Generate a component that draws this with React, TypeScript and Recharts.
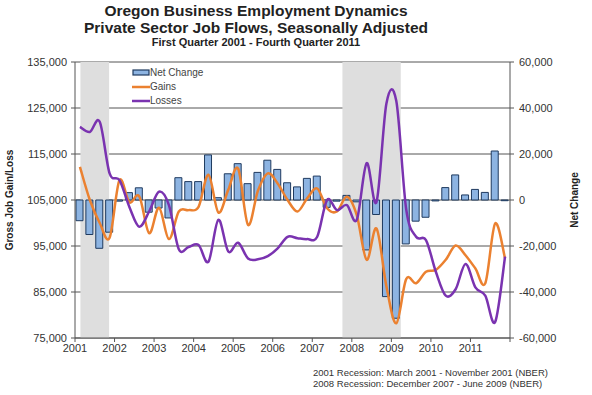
import { ComposedChart, Bar, Line, XAxis, YAxis, CartesianGrid, ReferenceArea, Legend } from 'recharts';

// quarterly values, Q1 2001 .. Q4 2011
const netChange = [
  -9000, -15000, -21000, -14000,
  -500, 3200, 5300, -5300,
  -3500, -7800, 9700, 8000,
  8000, 19600, 1000, 11400,
  15800, 7100, 12000, 17300,
  13300, 7500, 5700, 9400,
  10400, -3200, -500, 2000,
  -800, -21700, -6300, -42000,
  -51400, -19100, -9200, -7500,
  -400, 5400, 10900, 2200,
  4600, 3300, 21300, -300,
];

const gains = [
  112200, 105000, 100000, 96800,
  109300, 104500, 105800, 97800,
  103300, 96500, 102500, 102800,
  103500, 110500, 102300, 107200,
  111800, 99600, 107000, 110800,
  108600, 105000, 102500, 105400,
  107500, 103200, 102500, 105700,
  101700, 92000, 98800, 86200,
  78200, 87800, 86900, 89400,
  89800, 92000, 95100, 93000,
  90100, 86900, 99900, 92300,
];

const losses = [
  120900, 119800, 122000, 110800,
  109300, 103500, 99200, 102500,
  106800, 103900, 94300, 94800,
  95200, 91600, 100700, 93800,
  95700, 92300, 92100, 92800,
  94500, 97000, 96700, 96500,
  97000, 105000, 102800, 103900,
  100700, 113000, 104600, 126000,
  126500, 103000, 97000, 96300,
  89400, 84200, 85600, 91100,
  86000, 84200, 78500, 92700,
];

const years = ['2001', '2002', '2003', '2004', '2005', '2006', '2007', '2008', '2009', '2010', '2011'];
const yearTicks = [0, 4, 8, 12, 16, 20, 24, 28, 32, 36, 40, 44];
const grossTicks = [75000, 85000, 95000, 105000, 115000, 125000, 135000];
const netTicks = [-60000, -40000, -20000, 0, 20000, 40000, 60000];
// recession spans, in quarters from Q1 2001
const recessions = [
  [0.55, 3.45],
  [27.05, 32.95],
];

const data = netChange.map((v, i) => ({
  q: i + 0.5,
  net: v,
  gains: gains[i],
  losses: losses[i],
}));

const fmt = (v: number) => v.toLocaleString('en-US');
const font = 'Arial, "Liberation Sans", sans-serif';

const BLUE = '#8db4e2';
const ORANGE = '#eb8130';
const PURPLE = '#7a33b0';

// Catmull-Rom style smoothing, closer to Excel's "smoothed line"
function smoothCurve(context: any) {
  let pts: number[][] = [];
  return {
    areaStart() {},
    areaEnd() {},
    lineStart() {
      pts = [];
    },
    point(x: number, y: number) {
      pts.push([+x, +y]);
    },
    lineEnd() {
      if (!pts.length) return;
      context.moveTo(pts[0][0], pts[0][1]);
      for (let i = 0; i < pts.length - 1; i++) {
        const p0 = pts[i - 1] || pts[i];
        const p1 = pts[i];
        const p2 = pts[i + 1];
        const p3 = pts[i + 2] || p2;
        context.bezierCurveTo(
          p1[0] + (p2[0] - p0[0]) / 6,
          p1[1] + (p2[1] - p0[1]) / 6,
          p2[0] - (p3[0] - p1[0]) / 6,
          p2[1] - (p3[1] - p1[1]) / 6,
          p2[0],
          p2[1],
        );
      }
    },
  };
}

function LegendBox() {
  const items = [
    { label: 'Net Change', kind: 'bar', color: BLUE },
    { label: 'Gains', kind: 'line', color: ORANGE },
    { label: 'Losses', kind: 'line', color: PURPLE },
  ];
  return (
    <div style={{ fontFamily: font, fontSize: 10, color: '#444', lineHeight: '14px' }}>
      {items.map((it) => (
        <div key={it.label} style={{ display: 'flex', alignItems: 'center' }}>
          <svg width={18} height={14}>
            {it.kind === 'bar' ? (
              <rect x={1} y={4} width={16} height={5} fill={it.color} stroke="#1f3a5f" strokeWidth={1.2} />
            ) : (
              <line x1={0} y1={7} x2={18} y2={7} stroke={it.color} strokeWidth={2.5} />
            )}
          </svg>
          <span>{it.label}</span>
        </div>
      ))}
    </div>
  );
}

export default function App() {
  return (
    <div style={{ position: 'absolute', left: 0, top: 0, width: 592, height: 395, background: '#fff', fontFamily: font }}>
      <div style={{ position: 'absolute', left: 0, width: 512, top: 2, textAlign: 'center', fontWeight: 'bold', color: '#222' }}>
        <div style={{ fontSize: 15.5, lineHeight: '17px' }}>Oregon Business Employment Dynamics</div>
        <div style={{ fontSize: 15.5, lineHeight: '17px' }}>Private Sector Job Flows, Seasonally Adjusted</div>
        <div style={{ fontSize: 11, lineHeight: '13px' }}>First Quarter 2001 - Fourth Quarter 2011</div>
      </div>
      <ComposedChart
        width={592}
        height={395}
        data={data}
        margin={{ top: 62, right: 22, bottom: 37, left: 0 }}
        style={{ position: 'absolute', left: 0, top: 0 }}
      >
        {recessions.map(([a, b], i) => (
          <ReferenceArea key={i} yAxisId="left" x1={a} x2={b} fill="#dedede" fillOpacity={1} stroke="none" />
        ))}
        <CartesianGrid yAxisId="left" vertical={false} stroke="#555" strokeWidth={1} />
        <XAxis
          dataKey="q"
          type="number"
          domain={[0, 44]}
          ticks={yearTicks}
          tickFormatter={(t: number) => years[t / 4] ?? ''}
          interval={0}
          stroke="#555"
          tickSize={4}
          tick={{ fontSize: 11, fill: '#333', fontFamily: font }}
          height={20}
        />
        <YAxis
          yAxisId="left"
          domain={[75000, 135000]}
          ticks={grossTicks}
          tickFormatter={fmt}
          width={75}
          stroke="#555"
          tickSize={4}
          tickMargin={4}
          tick={{ fontSize: 11, fill: '#333', fontFamily: font }}
          label={{
            value: 'Gross Job Gain/Loss',
            angle: -90,
            position: 'insideLeft',
            offset: 9,
            style: { fontSize: 10, fontWeight: 'bold', fill: '#222', textAnchor: 'middle', fontFamily: font },
          }}
        />
        <YAxis
          yAxisId="right"
          orientation="right"
          domain={[-60000, 60000]}
          ticks={netTicks}
          tickFormatter={fmt}
          width={60}
          stroke="#555"
          tickSize={4}
          tickMargin={5}
          tick={{ fontSize: 11, fill: '#333', fontFamily: font }}
          label={{
            value: 'Net Change',
            angle: -90,
            position: 'insideRight',
            offset: -4,
            style: { fontSize: 10, fontWeight: 'bold', fill: '#222', textAnchor: 'middle', fontFamily: font },
          }}
        />
        <Legend
          layout="vertical"
          align="center"
          verticalAlign="middle"
          content={() => <LegendBox />}
          wrapperStyle={{ position: 'absolute', left: 132, top: 66, width: 100 }}
        />
        <Bar
          yAxisId="right"
          dataKey="net"
          name="Net Change"
          barSize={7}
          fill={BLUE}
          stroke="#1f3a5f"
          strokeWidth={1}
          isAnimationActive={false}
        />
        <Line
          yAxisId="left"
          type={smoothCurve as any}
          dataKey="gains"
          name="Gains"
          stroke={ORANGE}
          strokeWidth={2.5}
          dot={false}
          isAnimationActive={false}
        />
        <Line
          yAxisId="left"
          type={smoothCurve as any}
          dataKey="losses"
          name="Losses"
          stroke={PURPLE}
          strokeWidth={2.5}
          dot={false}
          isAnimationActive={false}
        />
      </ComposedChart>
      <div style={{ position: 'absolute', left: 313, top: 368, fontSize: 9.5, lineHeight: '10.5px', color: '#333' }}>
        <div>2001 Recession: March 2001 - November 2001 (NBER)</div>
        <div>2008 Recession: December 2007 - June 2009 (NBER)</div>
      </div>
    </div>
  );
}
